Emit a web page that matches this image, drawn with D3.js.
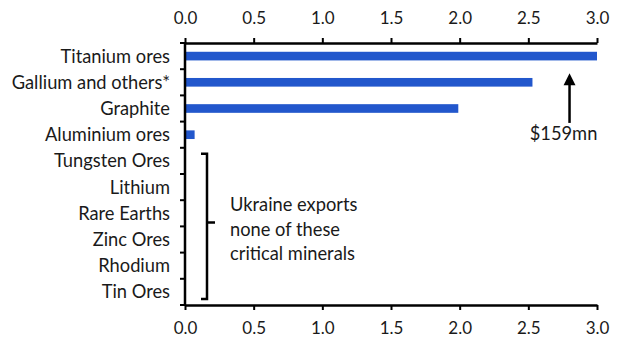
<!DOCTYPE html>
<html><head><meta charset="utf-8">
<script src="https://cdn.jsdelivr.net/npm/d3@7"></script>
<style>
html,body{margin:0;padding:0;background:#fff;}
svg text{font-family:Lato,"Noto Sans",sans-serif;fill:#1a1a1a;}
</style></head>
<body><svg id="c" width="629" height="355"></svg>
<script>
const categories = ["Titanium ores","Gallium and others*","Graphite","Aluminium ores","Tungsten Ores","Lithium","Rare Earths","Zinc Ores","Rhodium","Tin Ores"];
const values = [159, 2.53, 1.99, 0.07, 0, 0, 0, 0, 0, 0];
const tickValues = [0, 0.5, 1.0, 1.5, 2.0, 2.5, 3.0];
const arrowLabel = "$159mn";
const arrowValue = 2.8;
const noteLines = ["Ukraine exports","none of these","critical minerals"];
const bracketFrom = "Tungsten Ores", bracketTo = "Tin Ores";

const W = 629, H = 355;
const m = {left:185, right:32, top:43, bottom:50};
const svg = d3.select("#c");
const x = d3.scaleLinear().domain([0,3]).range([m.left, W-m.right]).clamp(true);
const y = d3.scaleBand().domain(categories).range([m.top, H-m.bottom]).paddingInner(0.67).paddingOuter(0.335);
const yb = d3.scaleBand().domain(categories).range([m.top, H-m.bottom]);
const fs = 17, fl = 18.3;

// bars
svg.append("g").selectAll("rect").data(categories.map((c,i)=>({c,v:values[i]})).filter(d=>d.v>0))
  .join("rect")
  .attr("x", x(0)).attr("y", d=>y(d.c)).attr("height", y.bandwidth())
  .attr("width", d=>x(d.v)-x(0)).attr("fill","#2257cc");

// top / bottom axes
const fmt = d3.format(".1f");
const gt = svg.append("g").attr("transform",`translate(0,${m.top})`)
  .call(d3.axisTop(x).tickValues(tickValues).tickFormat(fmt).tickSize(5).tickSizeOuter(0).tickPadding(14));
const gb = svg.append("g").attr("transform",`translate(0,${H-m.bottom})`)
  .call(d3.axisBottom(x).tickValues(tickValues).tickFormat(fmt).tickSize(5).tickSizeOuter(0).tickPadding(12));
[gt,gb].forEach(g=>{
  g.select(".domain").attr("stroke","#000").attr("stroke-width",2.5);
  g.selectAll(".tick line").attr("stroke","#000").attr("stroke-width",2);
  g.selectAll(".tick text").attr("font-size",fs).attr("font-family","Lato,'Noto Sans',sans-serif").attr("fill","#1a1a1a");
});

// left axis
const gl = svg.append("g");
gl.append("line").attr("x1",x(0)).attr("x2",x(0)).attr("y1",m.top-1).attr("y2",H-m.bottom+1)
  .attr("stroke","#000").attr("stroke-width",2.5);
const bounds = categories.map(c=>yb(c)).concat([yb.range()[1]]);
gl.selectAll("line.t").data(bounds).join("line").attr("class","t")
  .attr("x1",x(0)-5).attr("x2",x(0)).attr("y1",d=>d).attr("y2",d=>d)
  .attr("stroke","#000").attr("stroke-width",2);
gl.selectAll("text").data(categories).join("text")
  .attr("x",x(0)-15).attr("y",d=>yb(d)+yb.bandwidth()/2).attr("dy","0.35em")
  .attr("text-anchor","end").attr("font-size",fl).text(d=>d);

// arrow annotation
const ax = x(arrowValue);
const ann = svg.append("g");
ann.append("line").attr("x1",ax).attr("x2",ax).attr("y1",yb(categories[1])+yb.bandwidth()*0.6).attr("y2",yb(categories[2])+yb.bandwidth()*1.05)
  .attr("stroke","#000").attr("stroke-width",2.5);
const ty = yb(categories[1])+yb.bandwidth()*0.15;
ann.append("path").attr("d",`M${ax},${ty} L${ax-6},${ty+12} L${ax+6},${ty+12} Z`).attr("fill","#000");
ann.append("text").attr("x",ax-6).attr("y",yb(categories[3])+yb.bandwidth()*0.45).attr("dy","0.35em")
  .attr("text-anchor","middle").attr("font-size",fl).text(arrowLabel);

// bracket
const bx = x(0)+11, by0 = yb(bracketFrom)+6, by1 = yb(bracketTo)+yb.bandwidth()-6;
const bm = (yb(bracketFrom)+yb(bracketTo)+yb.bandwidth())/2 - 4;
svg.append("path").attr("d",`M${bx+5},${by0} L${bx+11},${by0} L${bx+11},${by1} L${bx+5},${by1} M${bx+11},${bm} L${bx+19},${bm}`)
  .attr("fill","none").attr("stroke","#000").attr("stroke-width",2.5);
svg.append("text").attr("font-size",fl).selectAll("tspan").data(noteLines).join("tspan")
  .attr("x",230).attr("y",(d,i)=>211+i*24.5).text(d=>d);
</script></body></html>
